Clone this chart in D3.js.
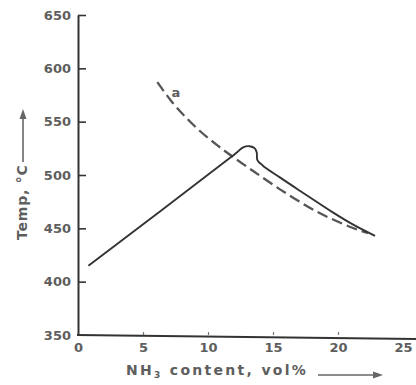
<!DOCTYPE html>
<html>
<head>
<meta charset="utf-8">
<script src="https://cdn.jsdelivr.net/npm/d3@7/dist/d3.min.js"></script>
<style>
  html, body { margin: 0; padding: 0; background: #fff; }
  svg { display: block; }
  text { font-family: "DejaVu Sans", sans-serif; font-weight: bold; fill: #5e5e5e; }
</style>
</head>
<body>
<script>
// Temperature profile vs. NH3 content
const xTicks = [0, 5, 10, 15, 20, 25];
const yTicks = [350, 400, 450, 500, 550, 600, 650];

// solid curve: measured temperature
const solidX = [0.8, 11.8, 12.3, 12.7, 13.2, 13.6, 13.75, 13.8, 14.2, 15.5, 17.1, 19.6, 21.1, 22.85];
const solidT = [415, 517, 522, 526, 527, 525, 521, 514, 509, 498, 485, 465, 454, 443];

// dashed curve a
const dashX = [6.1, 7.2, 8.3, 9.4, 10.7, 11.8, 13.5, 15.8, 18.4, 20.9, 22.3];
const dashT = [587, 569, 554, 541, 528, 518, 503.5, 484.5, 465.5, 451.5, 445.5];

const W = 416, H = 385;
const svg = d3.select("body").append("svg").attr("width", W).attr("height", H);

const x = d3.scaleLinear().domain([0, 25]).range([78, 403]);
const y = d3.scaleLinear().domain([350, 650]).range([335, 15]);

const ink = "#333";

// y axis with ticks pointing into the plot
const yAxis = svg.append("g").attr("transform", `translate(${x(0)},0)`)
  .call(d3.axisLeft(y).tickValues(yTicks).tickSizeInner(-8).tickSizeOuter(0).tickPadding(7));
yAxis.select(".domain").attr("stroke", ink).attr("stroke-width", 2);
yAxis.selectAll(".tick line").attr("stroke", ink).attr("stroke-width", 1.6)
  .filter(d => d === 350).remove();
yAxis.selectAll(".tick text").attr("font-size", 13).style("fill", "#5e5e5e");

// x axis
const xAxis = svg.append("g").attr("transform", `translate(0,${y(350)})`)
  .call(d3.axisBottom(x).tickValues(xTicks).tickSizeInner(-3).tickSizeOuter(0).tickPadding(8));
xAxis.select(".domain").remove();
xAxis.selectAll(".tick line").attr("stroke", "#777").attr("stroke-width", 1.2)
  .filter(d => d === 0 || d === 25).remove();
xAxis.selectAll(".tick text").attr("font-size", 13).style("fill", "#5e5e5e");
xAxis.append("line")
  .attr("x1", x(0) - 1).attr("x2", x(25) + 13)
  .attr("y1", 0).attr("y2", 4)
  .attr("stroke", ink).attr("stroke-width", 2);

const line = d3.line().x(d => x(d[0])).y(d => y(d[1])).curve(d3.curveCatmullRom.alpha(0.5));

// dashed curve a
svg.append("path")
  .datum(dashX.map((v, i) => [v, dashT[i]]))
  .attr("d", line)
  .attr("fill", "none")
  .attr("stroke", "#555")
  .attr("stroke-width", 2.3)
  .attr("stroke-dasharray", "11 5");

// solid curve
svg.append("path")
  .datum(solidX.map((v, i) => [v, solidT[i]]))
  .attr("d", line)
  .attr("fill", "none")
  .attr("stroke", ink)
  .attr("stroke-width", 1.9);

// curve label
svg.append("text")
  .attr("x", x(7.2)).attr("y", y(573))
  .attr("font-size", 13)
  .text("a");

// axis titles with arrows
const yl = svg.append("g").attr("transform", `translate(27,240) rotate(-90)`);
yl.append("text").attr("x", 0).attr("y", 0).attr("font-size", 14)
  .attr("letter-spacing", 0.8).text("Temp, °C");
yl.append("line").attr("x1", 78).attr("x2", 126).attr("y1", -4).attr("y2", -4)
  .attr("stroke", "#666").attr("stroke-width", 1.6);
yl.append("path").attr("d", "M121,-7.5 L131,-4 L121,-0.5 Z").attr("fill", "#666");

const xl = svg.append("g").attr("transform", `translate(126,375)`);
const xt = xl.append("text").attr("x", 0).attr("y", 0).attr("font-size", 14).attr("letter-spacing", 2.3);
xt.append("tspan").text("NH");
xt.append("tspan").attr("font-size", 9).attr("dy", 3).text("3");
xt.append("tspan").attr("dy", -3).text(" content, vol%");
xl.append("line").attr("x1", 192).attr("x2", 252).attr("y1", 0).attr("y2", 0)
  .attr("stroke", "#666").attr("stroke-width", 1.6);
xl.append("path").attr("d", "M247,-3.5 L257,0 L247,3.5 Z").attr("fill", "#666");
</script>
</body>
</html>
